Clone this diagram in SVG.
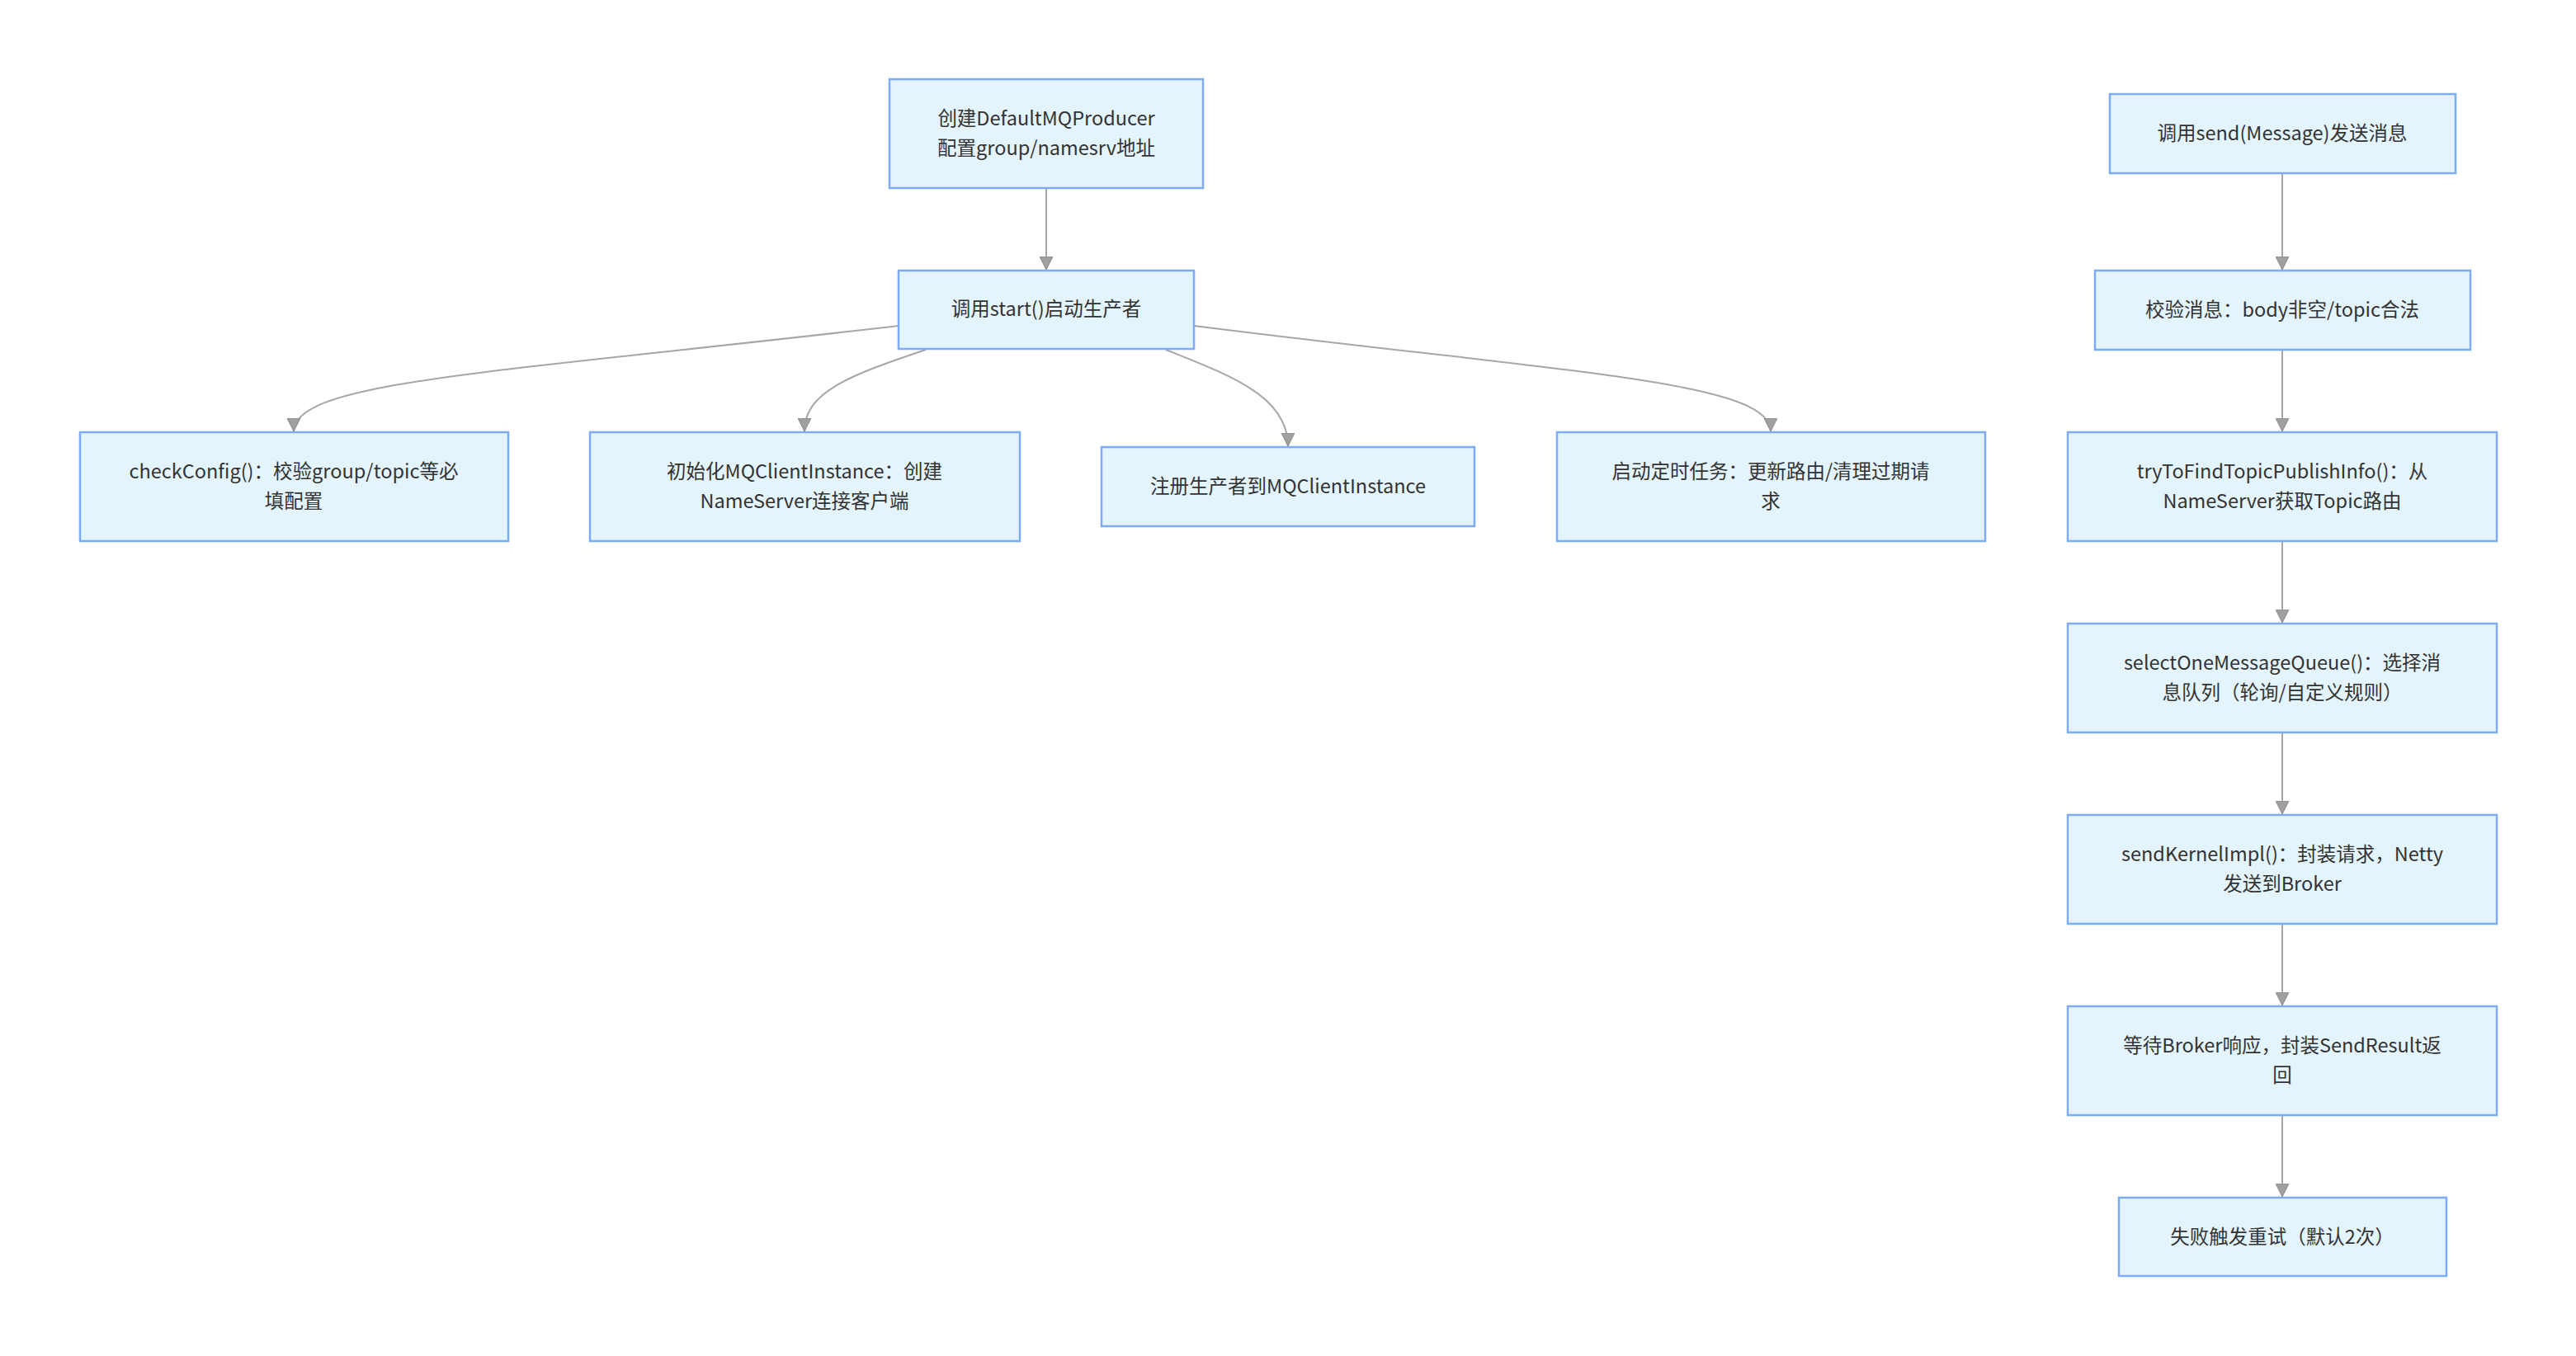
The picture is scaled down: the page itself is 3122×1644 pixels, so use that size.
<svg xmlns="http://www.w3.org/2000/svg" width="3122" height="1644" viewBox="0 0 3122 1644">
<style>
.node rect{fill:#e4f4fd;stroke:#7eabf6;stroke-width:2.5}
.node text{font-family:"Noto Sans CJK SC","Noto Sans",sans-serif;font-size:23.5px;fill:#333;text-anchor:middle;dominant-baseline:central}
.edges path{fill:none;stroke:#a6a6a6;stroke-width:2}
</style>
<defs>
<marker id="arr" markerUnits="userSpaceOnUse" markerWidth="16" markerHeight="16" viewBox="0 0 16 16" refX="16" refY="8" orient="auto">
<path d="M0,0 L16,8 L0,16 z" fill="#a0a0a0" stroke="#888" stroke-width="1"/>
</marker>
</defs>
<rect width="3122" height="1644" fill="#fff"/>
<g class="edges">
<path d="M1268,228 L1268,327" marker-end="url(#arr)"/>
<path d="M1089,395 C600,452 356,462 356,523" marker-end="url(#arr)"/>
<path d="M1122,424 C1030,455 975,475 975,523" marker-end="url(#arr)"/>
<path d="M1413,424 C1490,455 1561,480 1561,541" marker-end="url(#arr)"/>
<path d="M1447,395 C1900,452 2146,462 2146,523" marker-end="url(#arr)"/>
<path d="M2766,210 L2766,327" marker-end="url(#arr)"/>
<path d="M2766,424 L2766,523" marker-end="url(#arr)"/>
<path d="M2766,656 L2766,755" marker-end="url(#arr)"/>
<path d="M2766,888 L2766,987" marker-end="url(#arr)"/>
<path d="M2766,1120 L2766,1219" marker-end="url(#arr)"/>
<path d="M2766,1352 L2766,1451" marker-end="url(#arr)"/>
</g>
<g id="nodeA" class="node"><rect x="1078" y="96" width="380" height="132"/><text x="1268" y="142">创建DefaultMQProducer</text><text x="1268" y="178">配置group/namesrv地址</text></g>
<g id="nodeB" class="node"><rect x="1089" y="328" width="358" height="95"/><text x="1268" y="373">调用start()启动生产者</text></g>
<g id="nodeC" class="node"><rect x="97" y="524" width="519" height="132"/><text x="356" y="570">checkConfig()：校验group/topic等必</text><text x="356" y="606">填配置</text></g>
<g id="nodeD" class="node"><rect x="715" y="524" width="521" height="132"/><text x="975" y="570">初始化MQClientInstance：创建</text><text x="975" y="606">NameServer连接客户端</text></g>
<g id="nodeE" class="node"><rect x="1335" y="542" width="452" height="96"/><text x="1561" y="588">注册生产者到MQClientInstance</text></g>
<g id="nodeF" class="node"><rect x="1887" y="524" width="519" height="132"/><text x="2146" y="570">启动定时任务：更新路由/清理过期请</text><text x="2146" y="606">求</text></g>
<g id="nodeS1" class="node"><rect x="2557" y="114" width="419" height="96"/><text x="2766" y="160">调用send(Message)发送消息</text></g>
<g id="nodeS2" class="node"><rect x="2539" y="328" width="455" height="96"/><text x="2766" y="374">校验消息：body非空/topic合法</text></g>
<g id="nodeS3" class="node"><rect x="2506" y="524" width="520" height="132"/><text x="2766" y="570">tryToFindTopicPublishInfo()：从</text><text x="2766" y="606">NameServer获取Topic路由</text></g>
<g id="nodeS4" class="node"><rect x="2506" y="756" width="520" height="132"/><text x="2766" y="802">selectOneMessageQueue()：选择消</text><text x="2766" y="838">息队列（轮询/自定义规则）</text></g>
<g id="nodeS5" class="node"><rect x="2506" y="988" width="520" height="132"/><text x="2766" y="1034">sendKernelImpl()：封装请求，Netty</text><text x="2766" y="1070">发送到Broker</text></g>
<g id="nodeS6" class="node"><rect x="2506" y="1220" width="520" height="132"/><text x="2766" y="1266">等待Broker响应，封装SendResult返</text><text x="2766" y="1302">回</text></g>
<g id="nodeS7" class="node"><rect x="2568" y="1452" width="397" height="95"/><text x="2766" y="1498">失败触发重试（默认2次）</text></g>
</svg>
